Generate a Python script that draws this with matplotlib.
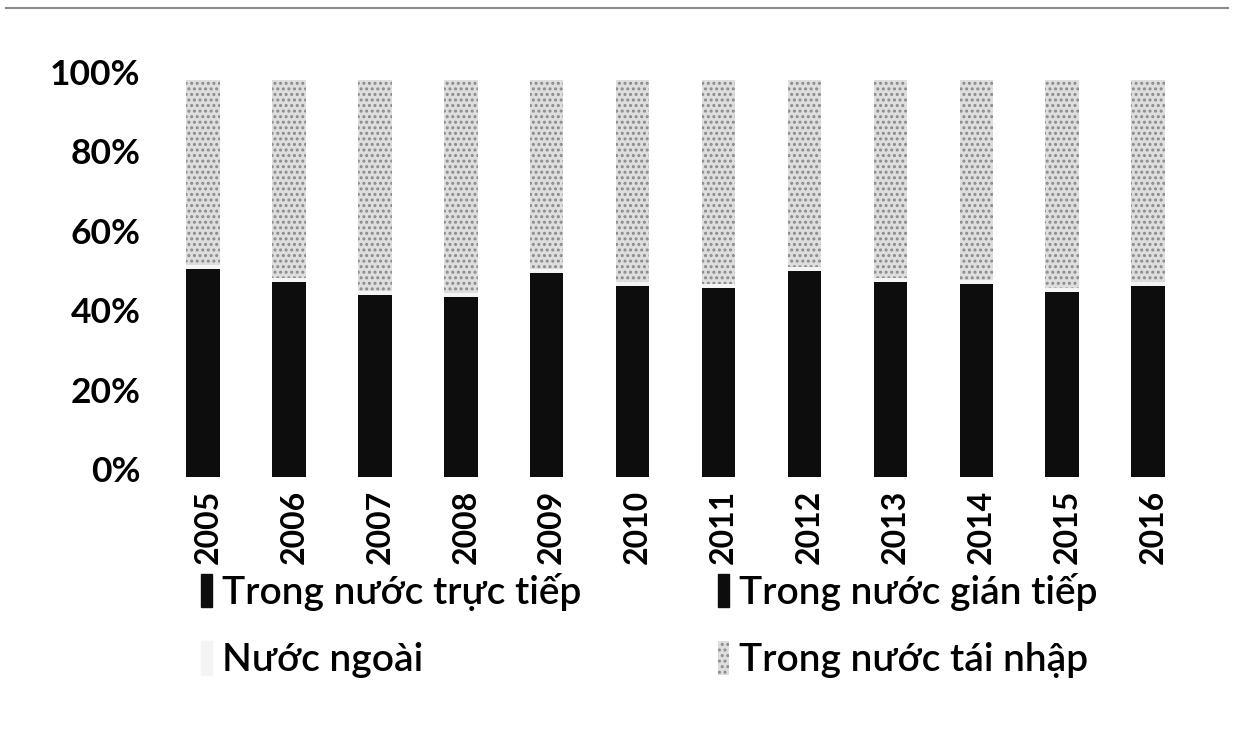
import matplotlib.pyplot as plt
import matplotlib.transforms as mtransforms
from matplotlib.patches import Rectangle
from matplotlib.lines import Line2D
import numpy as np

years = ['2005', '2006', '2007', '2008', '2009', '2010',
         '2011', '2012', '2013', '2014', '2015', '2016']
# black part of each bar (direct + indirect domestic), percent
black_total = [52.5, 49.2, 45.9, 45.4, 51.3, 48.2, 47.7, 51.8, 49.2, 48.5, 46.7, 48.2]
gian_tiep = [2, 2, 2, 2, 2, 2, 2, 2, 2, 2, 2, 2]
nuoc_ngoai = [1, 1, 1, 1, 1, 1, 1, 1, 1, 1, 1, 1]

labels = ['Trong nước trực tiếp', 'Trong nước gián tiếp', 'Nước ngoài', 'Trong nước tái nhập']

truc_tiep = np.array(black_total) - np.array(gian_tiep)
gian_tiep = np.array(gian_tiep)
nuoc_ngoai = np.array(nuoc_ngoai)
tai_nhap = 100 - truc_tiep - gian_tiep - nuoc_ngoai

plt.rcParams['font.family'] = ['Lato', 'DejaVu Sans']
plt.rcParams['hatch.linewidth'] = 1.4

fig = plt.figure(figsize=(12.34, 7.36), dpi=100)
ax = fig.add_axes([0.1297, 0.3519, 0.8355, 0.5394])

x = np.arange(len(years))
w = 0.39
ax.bar(x, truc_tiep, w, color='#0d0d0d', label=labels[0])
ax.bar(x, gian_tiep, w, bottom=truc_tiep, color='#0d0d0d', label=labels[1])
ax.bar(x, nuoc_ngoai, w, bottom=truc_tiep + gian_tiep, color='#f4f4f4', label=labels[2])
ax.bar(x, tai_nhap, w, bottom=truc_tiep + gian_tiep + nuoc_ngoai,
       facecolor='#dedede', edgecolor='#8a8a8a', hatch='...', linewidth=0, label=labels[3])

ax.set_xlim(-0.5, len(years) - 0.5)
ax.set_ylim(0, 100)
ax.set_yticks([0, 20, 40, 60, 80, 100])
ax.set_yticklabels([f'{v}%' for v in [0, 20, 40, 60, 80, 100]], fontweight='bold')
ax.set_xticks(x)
ax.set_xticklabels(years, rotation=90, fontweight='bold')
ax.tick_params(axis='y', length=0, pad=14, labelsize=25.5)
ax.tick_params(axis='x', length=0, pad=9, labelsize=23)
for lab in ax.get_yticklabels():
    lab.set_transform(lab.get_transform() + mtransforms.ScaledTranslation(0, 8 / 100, fig.dpi_scale_trans))
for lab in ax.get_xticklabels():
    lab.set_transform(lab.get_transform() + mtransforms.ScaledTranslation(5 / 100, 0, fig.dpi_scale_trans))
for s in ax.spines.values():
    s.set_visible(False)

# legend: column-major order for two columns
h = [Rectangle((0, 0), 1, 1, color='#0d0d0d'),
     Rectangle((0, 0), 1, 1, color='#f4f4f4'),
     Rectangle((0, 0), 1, 1, color='#0d0d0d'),
     Rectangle((0, 0), 1, 1, facecolor='#dedede', edgecolor='#8a8a8a', hatch='...', linewidth=0)]
l = [labels[0], labels[2], labels[1], labels[3]]
fig.legend(h, l, loc='upper left', bbox_to_anchor=(0.150, 0.243), ncol=2, frameon=False,
           prop={'weight': 'semibold', 'size': 28},
           handlelength=0.3, handleheight=0.95, handletextpad=0.25,
           columnspacing=3.5, labelspacing=0.78, borderaxespad=0)

# scan border line at the top
fig.add_artist(Line2D([0.005, 0.995], [0.989, 0.989], color='#8a8a8a', lw=1.5))

fig.savefig('out.png', dpi=100)
